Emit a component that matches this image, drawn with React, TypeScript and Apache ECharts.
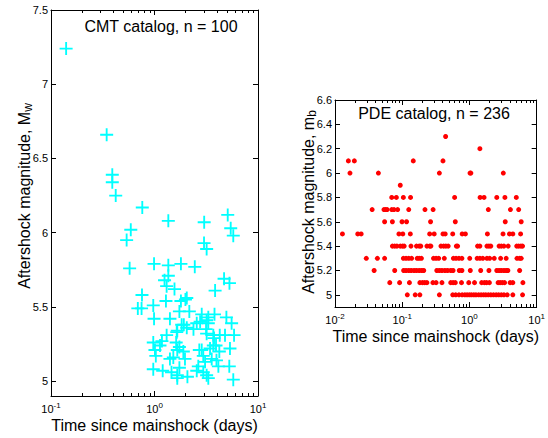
import { useEffect, useRef } from "react";
import * as echarts from "echarts";

const FONT = '"Liberation Sans", Arial, Helvetica, sans-serif';

// CMT catalog (n = 100): time since mainshock (days) and magnitude Mw
const cmtTime = [
  0.140, 0.345, 0.391, 0.391, 0.422, 0.762, 1.36, 3.02, 5.10, 0.590,
  5.45, 0.538, 5.77, 3.01, 3.19, 0.575, 0.99, 1.36, 1.80, 2.45,
  1.36, 1.25, 1.31, 1.56, 4.70, 5.30, 3.85, 0.757, 0.690, 0.75,
  0.973, 1.29, 1.80, 1.99, 0.99, 1.41, 1.74, 2.17, 2.86, 3.19,
  3.80, 4.95, 5.56, 2.76, 1.92, 2.38, 1.66, 1.31, 1.18, 0.973,
  1.13, 1.01, 1.03, 1.62, 1.74, 1.66, 1.90, 1.41, 1.97, 2.86,
  3.19, 3.76, 3.93, 3.44, 4.80, 5.87, 5.36, 4.23, 2.96, 3.08,
  3.97, 4.14, 5.28, 2.65, 2.56, 2.96, 3.19, 3.31, 5.77, 0.973,
  1.20, 1.46, 1.66, 1.66, 2.08, 1.74, 3.31, 2.56, 3.31, 3.15,
  4.27, 3.70, 1.83, 2.05, 1.64, 1.52, 3.57, 2.71, 3.70, 2.05,
];
const cmtMag = [
  7.24, 6.66, 6.39, 6.34, 6.25, 6.17, 6.08, 6.07, 6.12, 6.02,
  6.03, 5.95, 5.98, 5.93, 5.89, 5.76, 5.79, 5.78, 5.79, 5.77,
  5.71, 5.68, 5.64, 5.62, 5.69, 5.66, 5.61, 5.58, 5.49, 5.49,
  5.51, 5.54, 5.54, 5.55, 5.42, 5.42, 5.47, 5.47, 5.45, 5.41,
  5.45, 5.43, 5.39, 5.40, 5.38, 5.35, 5.34, 5.31, 5.27, 5.26,
  5.24, 5.21, 5.17, 5.26, 5.23, 5.21, 5.20, 5.15, 5.15, 5.21,
  5.32, 5.29, 5.24, 5.22, 5.31, 5.31, 5.22, 5.20, 5.17, 5.13,
  5.14, 5.10, 5.10, 5.10, 5.07, 5.06, 5.04, 5.02, 5.01, 5.08,
  5.07, 5.06, 5.04, 5.02, 5.03, 5.09, 5.43, 5.39, 5.39, 5.35,
  5.31, 5.31, 5.38, 5.36, 5.33, 5.16, 5.15, 5.21, 5.24, 5.56,
];

// PDE catalog: magnitude levels (mb) and times (days) for each level
const pdeLevels = [6.3, 6.2, 6.1, 6.0, 5.9, 5.8, 5.7, 5.6, 5.5, 5.4, 5.3, 5.2, 5.1, 5.0];
const pdeTimes = [
  [0.442],
  [1.43],
  [0.0158, 0.0194, 0.146, 0.404],
  [0.0167, 0.0442, 0.357, 1.02, 1.05, 3.19],
  [0.0935],
  [0.0698, 0.0818, 0.104, 0.133, 0.602, 1.44, 1.65, 2.55, 3.37, 4.98],
  [0.0357, 0.0535, 0.0566, 0.0597, 0.0698, 0.0755, 0.0855, 0.125, 0.218, 0.288, 1.91, 4.07, 5.40],
  [0.0547, 0.0714, 0.0993, 0.116, 0.264, 0.616, 3.41, 5.89],
  [0.0129, 0.0218, 0.0245, 0.0893, 0.102, 0.132, 0.256, 0.299, 0.404, 0.436, 0.564, 0.780, 0.871, 1.85, 3.16, 3.94, 4.42, 5.77],
  [0.0714, 0.0773, 0.0834, 0.0935, 0.101, 0.107, 0.135, 0.163, 0.179, 0.189, 0.233, 0.256, 0.267, 0.377, 0.413, 0.446, 0.483, 0.638, 0.667, 1.32, 1.43, 1.82, 1.95, 2.08, 2.76, 2.98, 3.26, 3.77, 5.05, 5.40, 5.83, 6.17],
  [0.0292, 0.0427, 0.0547, 0.104, 0.114, 0.125, 0.138, 0.167, 0.179, 0.193, 0.292, 0.319, 0.349, 0.423, 0.577, 0.632, 0.698, 0.773, 1.01, 1.30, 1.43, 1.58, 1.82, 2.00, 2.34, 2.91, 3.52, 5.10, 5.58, 5.89],
  [0.0382, 0.0773, 0.105, 0.114, 0.125, 0.136, 0.150, 0.163, 0.179, 0.195, 0.209, 0.327, 0.357, 0.390, 0.431, 0.472, 0.527, 0.571, 0.706, 0.773, 1.03, 1.47, 1.95, 2.55, 2.76, 2.98, 3.26, 3.52, 3.73, 5.58],
  [0.0653, 0.0914, 0.128, 0.183, 0.200, 0.216, 0.233, 0.286, 0.319, 0.390, 0.527, 0.571, 0.616, 0.762, 0.977, 1.19, 1.52, 1.67, 1.80, 1.98, 2.67, 2.86, 3.08, 3.33, 4.03, 4.42, 6.24],
  [0.119, 0.156, 0.183, 0.357, 0.564, 0.624, 0.698, 0.780, 0.855, 0.923, 0.997, 1.07, 1.16, 1.25, 1.37, 1.49, 1.62, 1.75, 1.91, 2.08, 2.28, 2.50, 2.72, 2.98, 3.26, 3.65, 4.42, 6.17],
];

const leftYTicks = [5, 5.5, 6, 6.5, 7, 7.5];
const rightYTicks = [5, 5.2, 5.4, 5.6, 5.8, 6, 6.2, 6.4, 6.6];
const leftDecades = [-1, 1];
const rightDecades = [-2, 1];

const PLUS = "path://M-1,-7H1V-1H7V1H1V7H-1V1H-7V-1H-1Z";

function minorLogs(a: number, b: number) {
  const out: number[] = [];
  for (let e = a; e < b; e++) for (let k = 2; k <= 9; k++) out.push(e + Math.log10(k));
  return out;
}

export default function App() {
  const ref = useRef<HTMLDivElement>(null);
  useEffect(() => {
    if (!ref.current) return;
    const chart = echarts.init(ref.current, undefined, { renderer: "svg" });
    const black = "#000";
    const lineStyle = { color: black, width: 1 };

    const logLabel = {
      fontSize: 11,
      fontFamily: FONT,
      color: black,
      margin: 5,
      formatter: (v: number) => `10{sup|${Math.round(Math.log10(v))}}`,
      rich: { sup: { fontSize: 8, fontFamily: FONT, color: black, padding: [0, 0, 7, 0] } },
    };

    const xAxesFor = (grid: number, dec: number[], showName: boolean) => {
      const min = Math.pow(10, dec[0]);
      const max = Math.pow(10, dec[1]);
      const minor = minorLogs(dec[0], dec[1]);
      return [
        {
          type: "log", gridIndex: grid, logBase: 10, min, max, position: "bottom",
          axisLine: { show: true, onZero: false, lineStyle },
          axisTick: { show: true, inside: true, length: 5, lineStyle },
          axisLabel: logLabel,
          splitLine: { show: false },
          name: showName ? "Time since mainshock (days)" : "",
          nameLocation: "middle", nameGap: 21, nameMoveOverlap: false,
          nameTextStyle: { fontSize: 16, fontFamily: FONT, color: black },
        },
        {
          type: "value", gridIndex: grid, min: dec[0], max: dec[1], position: "bottom",
          axisLine: { show: false, onZero: false },
          axisTick: { show: true, inside: true, length: 3, lineStyle, customValues: minor },
          axisLabel: { show: false }, splitLine: { show: false },
        },
        {
          type: "log", gridIndex: grid, logBase: 10, min, max, position: "top",
          axisLine: { show: true, onZero: false, lineStyle },
          axisTick: { show: true, inside: true, length: 5, lineStyle },
          axisLabel: { show: false }, splitLine: { show: false },
        },
        {
          type: "value", gridIndex: grid, min: dec[0], max: dec[1], position: "top",
          axisLine: { show: false, onZero: false },
          axisTick: { show: true, inside: true, length: 3, lineStyle, customValues: minor },
          axisLabel: { show: false }, splitLine: { show: false },
        },
      ];
    };

    const yAxesFor = (
      grid: number, min: number, max: number, ticks: number[],
      name: string, sub: string, gap: number, shift: number,
    ) => [
      {
        type: "value", gridIndex: grid, min, max, position: "left",
        axisLine: { show: true, onZero: false, lineStyle },
        axisTick: { show: true, inside: true, length: 5, lineStyle, customValues: ticks },
        axisLabel: { fontSize: 11, fontFamily: FONT, color: black, margin: 3, customValues: ticks },
        splitLine: { show: false },
        name: `${name}{sub|${sub}}`,
        nameLocation: "middle", nameRotate: 90, nameGap: gap, nameMoveOverlap: false,
        nameTextStyle: {
          fontSize: 16, fontFamily: FONT, color: black,
          padding: [0, 0, 0, shift],
          rich: { sub: { fontSize: 12, fontFamily: FONT, color: black, padding: [8, 0, 0, 0] } },
        },
      },
      {
        type: "value", gridIndex: grid, min, max, position: "right",
        axisLine: { show: true, onZero: false, lineStyle },
        axisTick: { show: true, inside: true, length: 5, lineStyle, customValues: ticks },
        axisLabel: { show: false }, splitLine: { show: false },
      },
    ];

    const cmtData = cmtTime.map((t, i) => [t, cmtMag[i]]);
    const pdeData: number[][] = [];
    pdeLevels.forEach((m, i) => pdeTimes[i].forEach((t) => pdeData.push([t, m])));

    chart.setOption({
      animation: false,
      backgroundColor: "#fff",
      grid: [
        { left: 51, top: 10, width: 207, height: 387 },
        { left: 335, top: 100, width: 206, height: 207 },
      ],
      xAxis: [...xAxesFor(0, leftDecades, true), ...xAxesFor(1, rightDecades, true)],
      yAxis: [
        ...yAxesFor(0, 4.9, 7.5, leftYTicks, "Aftershock magnitude, M", "w", 17, 14),
        ...yAxesFor(1, 4.9, 6.6, rightYTicks, "Aftershock magnitude, m", "b", 17, 3),
      ],
      series: [
        {
          type: "scatter", xAxisIndex: 0, yAxisIndex: 0, data: cmtData,
          symbol: PLUS, symbolSize: 13,
          itemStyle: { color: "#00ffff", opacity: 1 },
        },
        {
          type: "scatter", xAxisIndex: 4, yAxisIndex: 2, data: pdeData,
          symbol: "circle", symbolSize: 5,
          itemStyle: { color: "#ff0000", opacity: 1 },
        },
      ],
      graphic: [
        {
          type: "text", x: 161, y: 26,
          style: {
            text: "CMT catalog, n = 100", fontSize: 16, fontFamily: FONT, fill: black,
            textAlign: "center", textVerticalAlign: "middle", align: "center", verticalAlign: "middle",
          },
        },
        {
          type: "text", x: 434, y: 113,
          style: {
            text: "PDE catalog, n = 236", fontSize: 16, fontFamily: FONT, fill: black,
            textAlign: "center", textVerticalAlign: "middle", align: "center", verticalAlign: "middle",
          },
        },
      ],
    });
    return () => chart.dispose();
  }, []);
  return (
    <div
      ref={ref}
      style={{ position: "fixed", left: 0, top: 0, width: 548, height: 438, background: "#fff" }}
    />
  );
}
